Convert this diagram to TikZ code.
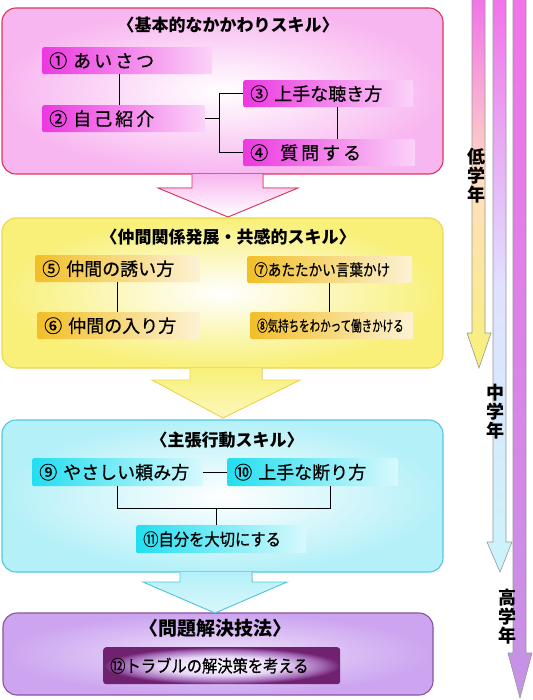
\documentclass[tikz,border=0pt]{standalone}
\usepackage{fontspec}
\setmainfont{Noto Sans CJK JP}
\newfontfamily\epais[FakeBold=0.6]{Noto Sans CJK JP}
\usetikzlibrary{positioning,calc}
\definecolor{rose}{RGB}{236,56,224}
\definecolor{rosepale}{RGB}{248,182,240}
\definecolor{rouge}{RGB}{222,52,88}
\definecolor{jaune}{RGB}{242,190,40}
\definecolor{jaunepale}{RGB}{248,240,120}
\definecolor{jaunebord}{RGB}{240,214,80}
\definecolor{cyanvif}{RGB}{34,222,240}
\definecolor{cyanpale}{RGB}{180,240,248}
\definecolor{cyanbord}{RGB}{80,200,226}
\definecolor{mauve}{RGB}{112,34,112}
\definecolor{mauvepale}{RGB}{204,164,240}
\definecolor{mauvebord}{RGB}{140,80,160}
\definecolor{gris}{RGB}{150,150,150}
\pgfdeclareradialshading{centremauve}{\pgfpoint{0bp}{0bp}}{color(0bp)=(white); color(13bp)=(white!55!mauvepale); color(21bp)=(mauvepale!55!mauve); color(25bp)=(mauve); color(50bp)=(mauve)}

\begin{document}
\begin{tikzpicture}[x=1pt,y=-1pt,
	panneau/.style={rounded corners=14pt,line width=1.1pt},
	boite/.style={anchor=north west,rounded corners=2pt,minimum height=27pt,
		inner xsep=7pt,inner ysep=0pt,align=left,text width=#1,
		font=\epais\fontsize{18}{18}\selectfont},
	titre/.style={font=\bfseries\fontsize{17}{17}\selectfont},
	annee/.style={font=\bfseries\fontsize{18}{19}\selectfont,align=center,inner sep=0pt},
	lien/.style={black,line width=0.8pt}]
	\useasboundingbox (0,0) rectangle (532,700);

	\draw[gris,line width=0.6pt,top color=rose!70,bottom color=jaunepale,middle color=orange!25]
	(472,0)--(472,333)--(467,333)--(479,368)--(491,333)--(485,333)--(485,0);
	\draw[gris,line width=0.6pt,top color=rose!70,bottom color=cyanpale!70,middle color=blue!12]
	(493,0)--(493,542)--(487,542)--(500,572)--(512,542)--(506,542)--(506,0);
	\draw[gris,line width=0.6pt,top color=rose!70,bottom color=mauvepale!90!violet]
	(513,0)--(513,653)--(508,653)--(520,698)--(532,653)--(526,653)--(526,0);
	\node[annee] (bas) at (476,176) {低\\学\\年};
	\node[annee] (milieu) at (495,412) {中\\学\\年};
	\node[annee] (haut) at (507,617) {高\\学\\年};

	\draw[panneau,rouge,inner color=white,outer color=rosepale] (2,8) rectangle (443,174);
	\node[titre] (t1) at (228,25) {〈基本的なかかわりスキル〉};
	\node[boite=156pt,left color=rose,right color=rose!22!white] (b1) at (42,47) {① あ\,い\,さ\,つ};
	\node[boite=149pt,left color=rose,right color=rose!22!white] (b2) at (42,105) {② 自\,己\,紹\,介};
	\node[boite=156pt,left color=rose,right color=rose!22!white] (b3) at (243,80) {③ 上手な聴き方};
	\node[boite=158pt,left color=rose,right color=rose!22!white] (b4) at (243,139) {④\ \ 質\,問\,す\,る};
	\draw[lien] ([xshift=-8]b1.south) -- ([xshift=-8]b1.south |- b2.north);
	\draw[lien] (b2.east) -- ++(14,0) coordinate (j1);
	\draw[lien] (b3.west) -| (j1) |- (b4.west);
	\draw[lien] ([xshift=9]b3.south) -- ([xshift=9]b3.south |- b4.north);

	\draw[panneau,jaunebord,inner color=white,outer color=jaunepale] (2,218) rectangle (443,368);
	\node[titre] (t2) at (228,237) {〈仲間関係発展・共感的スキル〉};
	\node[boite=151pt,left color=jaune,right color=jaune!20!white] (b5) at (35,255) {⑤ 仲間の誘い方};
	\node[boite=149pt,left color=jaune,right color=jaune!20!white] (b6) at (37,312) {⑥ 仲間の入り方};
	\node[boite=151pt,left color=jaune,right color=jaune!20!white] (b7) at (247,256)
	{\scalebox{0.85}[1]{\fontsize{16}{16}\selectfont ⑦あたたかい言葉かけ}};
	\node[boite=149pt,left color=jaune,right color=jaune!20!white] (b8) at (250,312)
	{\scalebox{0.7}[1]{\fontsize{15}{15}\selectfont ⑧気持ちをわかって働きかける}};
	\draw[lien] (b5.south) -- (b5.south |- b6.north);
	\draw[lien] (b7.south) -- (b7.south |- b8.north);

	\draw[panneau,cyanbord,inner color=white,outer color=cyanpale] (2,420) rectangle (443,572);
	\node[titre] (t3) at (227,440) {〈主張行動スキル〉};
	\node[boite=157pt,minimum height=28pt,left color=cyanvif,right color=cyanvif!18!white] (b9) at (32,458) {⑨ やさしい頼み方};
	\node[boite=157pt,minimum height=28pt,left color=cyanvif,right color=cyanvif!18!white] (b10) at (227,458) {⑩ 上手な断り方};
	\node[boite=156pt,minimum height=28pt,left color=cyanvif,right color=cyanvif!18!white] (b11) at (136,525)
	{\scalebox{0.9}[1]{\fontsize{17}{17}\selectfont ⑪自分を大切にする}};
	\draw[lien] (b9.east) -- (b10.west);
	\draw[lien] (b9.south) -- ++(0,22) coordinate (j2) -| ([xshift=18]b10.south);
	\draw[lien] ([xshift=-5]b11.north) -- ([xshift=-5]b11.north |- j2);

	\draw[panneau,mauvebord,inner color=white!70!mauvepale,outer color=mauvepale] (3,613) rectangle (433,695);
	\node[titre,font=\bfseries\fontsize{19}{19}\selectfont] (t4) at (215,628) {〈問題解決技法〉};
	\node[boite=223pt,minimum height=37pt,rounded corners=3pt,shading=centremauve] (b12) at (103,647)
	{\scalebox{0.9}[1]{\fontsize{17}{17}\selectfont ⑫トラブルの解決策を考える}};

	\fill[top color=rosepale,bottom color=white] (192,174)--(192,188)--(158,188)--(228,217)--(298,188)--(263,188)--(263,174)--cycle;
	\draw[rouge,line width=0.9pt] (192,174)--(192,188)--(158,188)--(228,217)--(298,188)--(263,188)--(263,174);
	\fill[top color=jaunepale,bottom color=jaunepale!50!white] (190,368)--(190,380)--(152,380)--(223,418)--(300,380)--(262,380)--(262,368)--cycle;
	\draw[jaunebord,line width=0.9pt] (190,368)--(190,380)--(152,380)--(223,418)--(300,380)--(262,380)--(262,368);
	\fill[top color=cyanpale,bottom color=cyanpale!50!white] (180,572)--(180,582)--(143,582)--(215,613)--(287,582)--(252,582)--(252,572)--cycle;
	\draw[cyanbord,line width=0.9pt] (180,572)--(180,582)--(143,582)--(215,613)--(287,582)--(252,582)--(252,572);
\end{tikzpicture}
\end{document}
